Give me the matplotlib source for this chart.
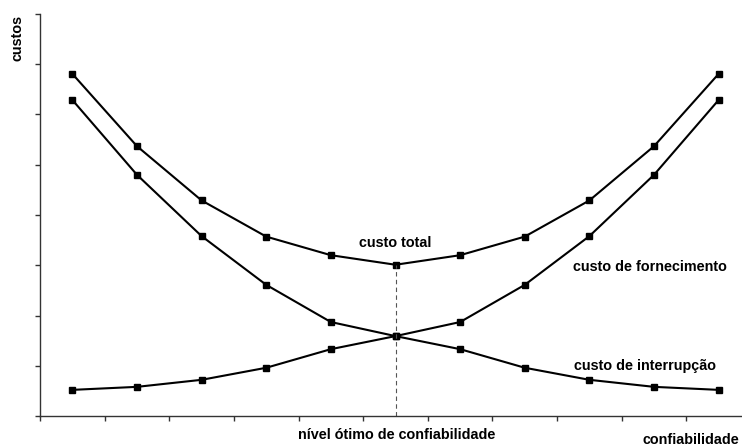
import numpy as np
import matplotlib
matplotlib.use("Agg")
import matplotlib.pyplot as plt

plt.rcParams["font.family"] = ["Liberation Sans", "DejaVu Sans"]

# data (arbitrary cost units, 0..8)
niveis = np.arange(11) + 0.5
custo_interrupcao = [6.29, 4.80, 3.58, 2.61, 1.87, 1.59, 1.33, 0.96, 0.72, 0.58, 0.52]
custo_fornecimento = custo_interrupcao[::-1]
custo_total = [6.81, 5.37, 4.29, 3.57, 3.20, 3.01, 3.20, 3.57, 4.29, 5.37, 6.81]
i_otimo = 5

W, H = 742, 448
fig = plt.figure(figsize=(W / 100, H / 100), dpi=100)
# axes spans x=40..751 px (right end runs off the picture), y=14..416 px
ax = fig.add_axes([40 / W, (H - 416) / H, 711 / W, 402 / H])

for serie in (custo_total, custo_interrupcao, custo_fornecimento):
    ax.plot(niveis, serie, color="black", lw=1.5, marker="s", ms=4.5,
            markerfacecolor="black", markeredgecolor="black")

ax.vlines(niveis[i_otimo], 0, custo_total[i_otimo], colors="#555555",
          linestyles=(0, (4, 3)), lw=0.8)

ax.set_xlim(0, 11)
ax.set_ylim(0, 8)
ax.set_xticks(np.arange(12))
ax.set_yticks(np.arange(9))
ax.set_xticklabels([])
ax.set_yticklabels([])
ax.tick_params(direction="out", length=3.5, width=1, colors="#333333")
for s in ("top", "right"):
    ax.spines[s].set_visible(False)
for s in ("left", "bottom"):
    ax.spines[s].set_color("#333333")
    ax.spines[s].set_linewidth(1)


def px(x, y):
    return x / W, 1 - y / H


kw = dict(fontsize=10.4, fontweight="bold", color="black")
fig.text(*px(18, 38), "custos", rotation=90, ha="center", va="center", **kw)
fig.text(*px(395, 243), "custo total", ha="center", va="center", **kw)
fig.text(*px(573, 267), "custo de fornecimento", ha="left", va="center", **kw)
fig.text(*px(574, 366), "custo de interrupção", ha="left", va="center", **kw)
fig.text(*px(397, 435), "nível ótimo de confiabilidade", ha="center", va="center", **kw)
fig.text(*px(739, 440), "confiabilidade", ha="right", va="center", **kw)

fig.savefig("out.png", dpi=100)
